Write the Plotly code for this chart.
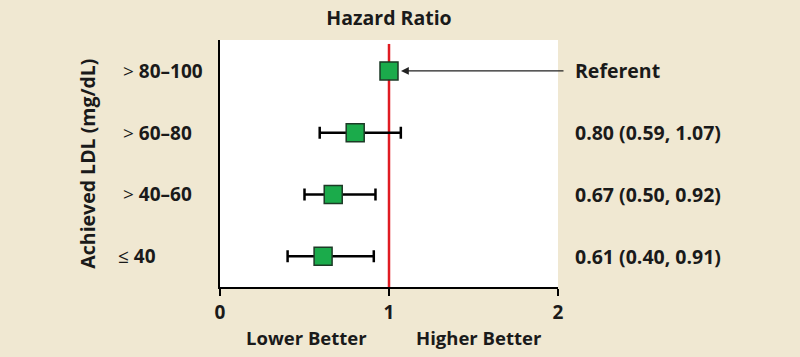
import plotly.graph_objects as go

groups = ["> 80–100", "> 60–80", "> 40–60", "≤ 40"]
hr = [1.00, 0.80, 0.67, 0.61]
ci_low = [None, 0.59, 0.50, 0.40]
ci_high = [None, 1.07, 0.92, 0.91]
right_labels = ["Referent", "0.80 (0.59, 1.07)", "0.67 (0.50, 0.92)", "0.61 (0.40, 0.91)"]
x_ticks = [0, 1, 2]

FONT = "Open Sans"
BG = "#f0e8d2"
GREEN = "#1bab4b"
TXT = "#1a1a1a"

n = len(groups)
ypos = [n - 1 - i for i in range(n)]
err_plus = [(0 if lo is None else hi - h) for h, lo, hi in zip(hr, ci_low, ci_high)]
err_minus = [(0 if lo is None else h - lo) for h, lo, hi in zip(hr, ci_low, ci_high)]

fig = go.Figure()
fig.add_trace(go.Scatter(
    x=hr, y=ypos, mode="markers",
    marker=dict(symbol="square", size=18, color=GREEN, line=dict(color="#1d3a26", width=1.5)),
    error_x=dict(type="data", array=err_plus, arrayminus=err_minus, color="black",
                 thickness=2.5, width=6, visible=True),
    showlegend=False, hoverinfo="skip",
))

# red reference line
fig.add_shape(type="line", xref="x", yref="paper", x0=1, x1=1, y0=0, y1=0.984,
              line=dict(color="#e01b22", width=2.5), layer="below")

annotations = []
for g, y in zip(groups, ypos):
    sym = g[0]
    txt = "<span style='font-weight:normal'>" + sym + "</span> <b>" + g[2:] + "</b>"
    annotations.append(dict(x=0, y=y, xref="x", yref="y", xanchor="left", yanchor="middle",
                            xshift=-99 if sym == ">" else -104, text=txt, showarrow=False,
                            font=dict(family=FONT, size=19, color=TXT)))
for lab, y in zip(right_labels, ypos):
    annotations.append(dict(x=1, y=y, xref="paper", yref="y", xanchor="left", yanchor="middle",
                            xshift=15, text="<b>" + lab + "</b>", showarrow=False,
                            font=dict(family=FONT, size=19.5, color=TXT)))
# arrow to referent
annotations.append(dict(x=hr[0], y=ypos[0], xref="x", yref="y", ax=176, ay=0,
                        axref="pixel", ayref="pixel", text="", showarrow=True,
                        arrowhead=2, arrowsize=1.2, arrowwidth=1.3, arrowcolor="#222",
                        standoff=12))
annotations.append(dict(x=-0.393, y=0.5, xref="paper", yref="paper", textangle=-90,
                        xanchor="center", yanchor="middle",
                        text="<b>Achieved LDL (mg/dL)</b>", showarrow=False,
                        font=dict(family=FONT, size=19.5, color=TXT)))
annotations.append(dict(x=0.5, y=0, xref="x", yref="paper", yshift=-50, xshift=2,
                        yanchor="middle", xanchor="center",
                        text="<b>Lower Better</b>", showarrow=False,
                        font=dict(family=FONT, size=18.5, color=TXT)))
annotations.append(dict(x=1.5, y=0, xref="x", yref="paper", yshift=-50, xshift=5,
                        yanchor="middle", xanchor="center",
                        text="<b>Higher Better</b>", showarrow=False,
                        font=dict(family=FONT, size=18.5, color=TXT)))

fig.update_layout(
    width=800, height=357,
    margin=dict(l=220, r=242, t=40, b=70),
    paper_bgcolor=BG, plot_bgcolor="white",
    title=dict(text="<b>Hazard Ratio</b>", x=0.5, xref="paper", y=1 - 18 / 357,
               yref="container", xanchor="center", yanchor="middle",
               font=dict(family=FONT, size=19.5, color=TXT, weight=800)),
    xaxis=dict(range=[0, 2], tickvals=x_ticks, ticktext=[f"<b>{t}</b>" for t in x_ticks],
               showgrid=False, zeroline=False, showline=True, linecolor="black", linewidth=1.5,
               ticks="outside", ticklen=7, tickwidth=1.5, tickcolor="black",
               tickfont=dict(family=FONT, size=19, color=TXT)),
    yaxis=dict(range=[-0.5, 3.5], showticklabels=False, showgrid=False, zeroline=False,
               showline=True, linecolor="black", linewidth=1.5, ticks=""),
    annotations=annotations,
)

fig.write_html("out.html", config={"displayModeBar": False},
               post_script="document.body.style.margin='0';document.body.style.background='" + BG + "';")
